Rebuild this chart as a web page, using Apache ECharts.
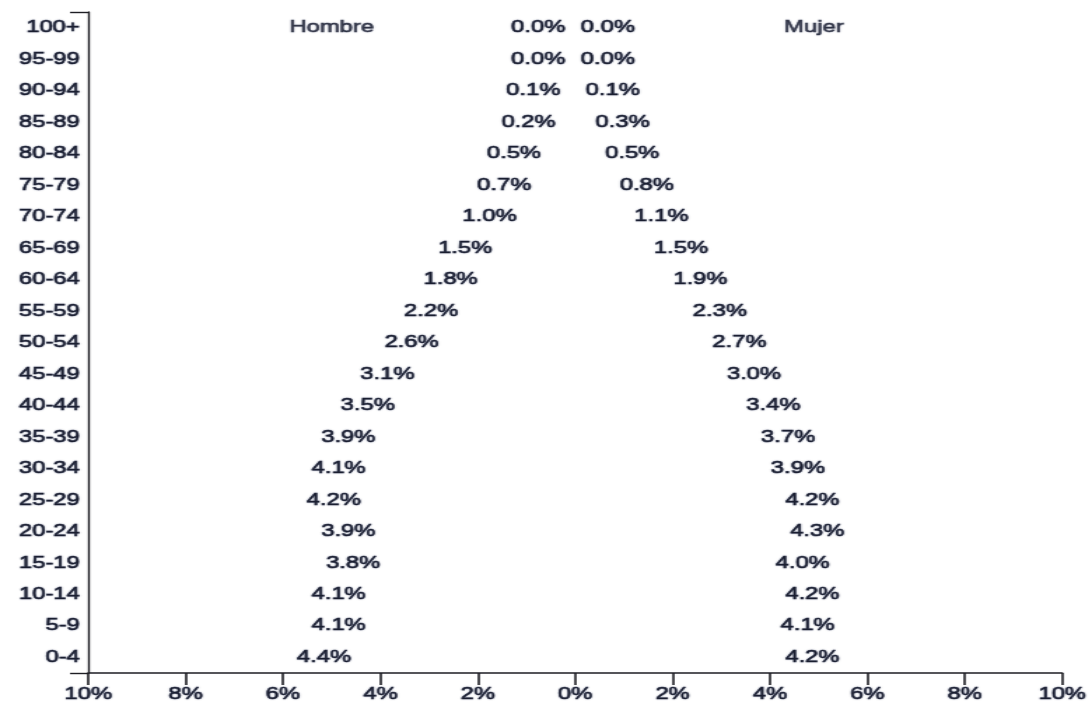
<!DOCTYPE html>
<html>
<head>
<meta charset="utf-8">
<script src="https://cdn.jsdelivr.net/npm/echarts@6/dist/echarts.min.js"></script>
<style>
html,body{margin:0;padding:0;background:#fff;overflow:hidden;width:1091px;height:704px}
#wrap{width:1091px;height:704px;overflow:hidden;position:relative}
#chart{width:779px;height:704px;transform:scaleX(1.4);transform-origin:0 0}
</style>
</head>
<body>
<div id="wrap"><div id="chart"></div></div>
<script>
// Age groups, top to bottom
const ageGroups = ['100+','95-99','90-94','85-89','80-84','75-79','70-74','65-69','60-64','55-59','50-54','45-49','40-44','35-39','30-34','25-29','20-24','15-19','10-14','5-9','0-4'];
// Percent of population
const hombre = [0.0,0.0,0.1,0.2,0.5,0.7,1.0,1.5,1.8,2.2,2.6,3.1,3.5,3.9,4.1,4.2,3.9,3.8,4.1,4.1,4.4];
const mujer  = [0.0,0.0,0.1,0.3,0.5,0.8,1.1,1.5,1.9,2.3,2.7,3.0,3.4,3.7,3.9,4.2,4.3,4.0,4.2,4.1,4.2];
const sexNames = ['Hombre','Mujer'];
const xMin = -10, xMax = 10, xStep = 2;

const FONT = '"Liberation Sans", Arial, sans-serif';
const TXT = '#1a1e30';
const LINE = '#1e1e24';

const chart = echarts.init(document.getElementById('chart'), null, {renderer:'canvas'});
const textFx = {fontSize:17, fontFamily:FONT, color:TXT,
  textBorderColor:'rgba(26,30,48,0.85)', textBorderWidth:0.6,
  textShadowColor:'rgba(40,50,90,0.45)', textShadowBlur:1.5};
const labelBase = Object.assign({show:true}, textFx);

chart.setOption({
  animation:false,
  backgroundColor:'#fff',
  grid:{left:63, right:17, top:12, bottom:31, containLabel:false},
  xAxis:{
    type:'value', min:xMin, max:xMax, interval:xStep,
    splitLine:{show:false},
    axisLine:{show:true, onZero:false, lineStyle:{color:LINE, width:1.6}},
    axisTick:{show:true, length:12, lineStyle:{color:LINE, width:1.6}},
    axisLabel:Object.assign({margin:13, formatter:v=>Math.abs(v)+'%'}, textFx)
  },
  yAxis:{
    type:'category', data:ageGroups, inverse:true,
    axisLine:{show:true, onZero:false, lineStyle:{color:LINE, width:1.4}},
    axisTick:{show:true, length:13, interval:(i)=>i===0, lineStyle:{color:LINE, width:1.4}},
    axisLabel:Object.assign({margin:6}, textFx)
  },
  series:[
    {
      type:'bar', name:sexNames[0], data:hombre.map(v=>-v),
      barWidth:'60%', barGap:'-100%', silent:true,
      itemStyle:{color:'rgba(0,0,0,0)'},
      label:Object.assign({}, labelBase, {position:'left', distance:7,
        formatter:p=>Math.abs(p.value).toFixed(1)+'%'})
    },
    {
      type:'bar', name:sexNames[1], data:mujer,
      barWidth:'60%', barGap:'-100%', silent:true,
      itemStyle:{color:'rgba(0,0,0,0)'},
      label:Object.assign({}, labelBase, {position:'right', distance:4,
        formatter:p=>p.value.toFixed(1)+'%'})
    },
    {
      type:'scatter', symbolSize:0, silent:true,
      data:[[-5, ageGroups[0]], [4.9, ageGroups[0]]],
      label:Object.assign({}, labelBase, {position:'inside',
        formatter:p=>sexNames[p.dataIndex]})
    }
  ]
});
</script>
</body>
</html>
